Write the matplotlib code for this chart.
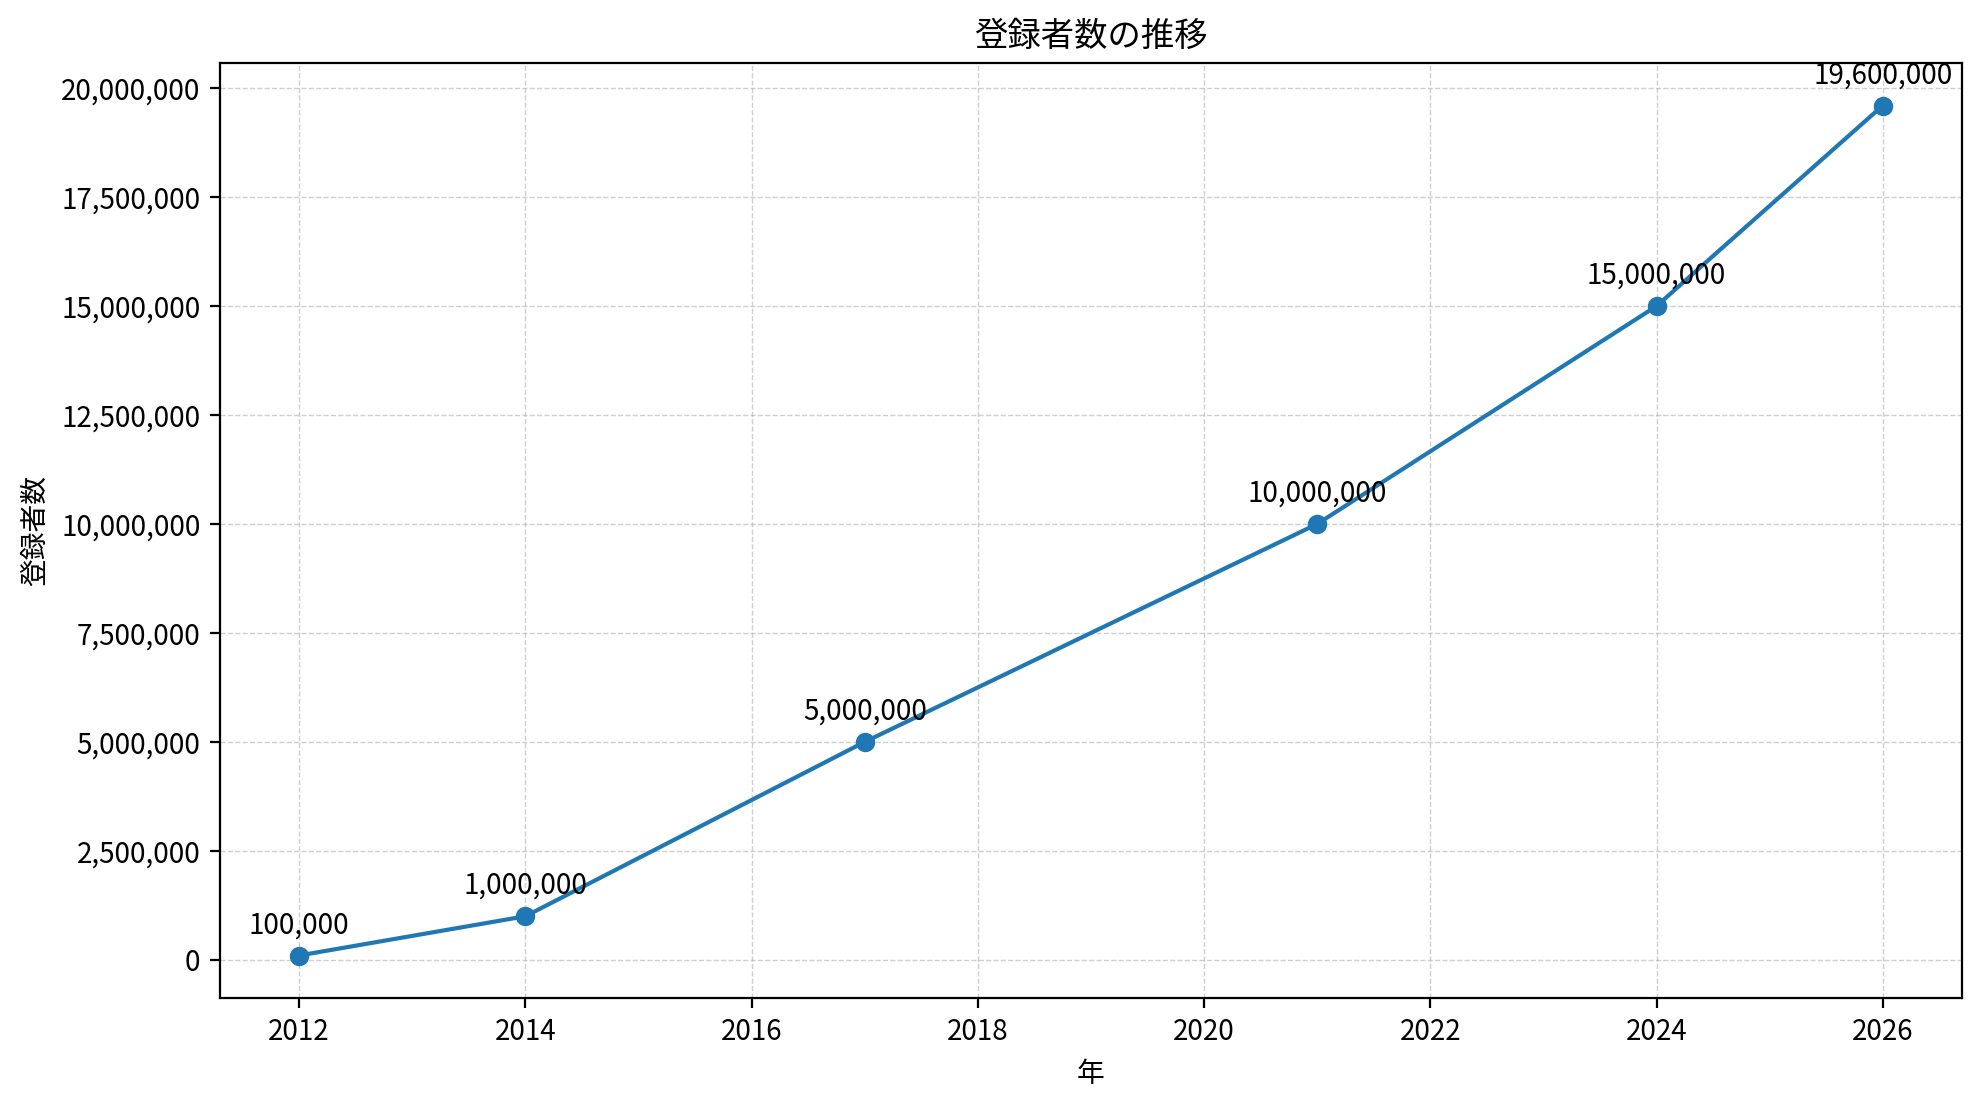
import matplotlib
matplotlib.use('Agg')
import matplotlib.pyplot as plt
from matplotlib.ticker import FuncFormatter

plt.rcParams['font.family'] = ['Noto Sans CJK JP', 'DejaVu Sans']

years = [2012, 2014, 2017, 2021, 2024, 2026]
registrations = [100000, 1000000, 5000000, 10000000, 15000000, 19600000]


def main():
    fig, ax = plt.subplots(figsize=(9.905, 5.55), dpi=200)
    fig.subplots_adjust(left=0.111, right=0.9904, top=0.9432, bottom=0.1009)

    ax.plot(years, registrations, marker='o', color='#1f77b4')

    # value labels above each point
    for x, y in zip(years, registrations):
        ax.annotate(f'{y:,}', (x, y), textcoords='offset points',
                    xytext=(0, 8), ha='center')

    ax.set_title('登録者数の推移')
    ax.set_xlabel('年')
    ax.set_ylabel('登録者数')
    ax.yaxis.set_major_formatter(FuncFormatter(lambda v, p: f'{int(v):,}'))
    ax.grid(True, linestyle='--', linewidth=0.5, alpha=0.6)

    fig.savefig('out.png', dpi=200)


if __name__ == '__main__':
    main()
